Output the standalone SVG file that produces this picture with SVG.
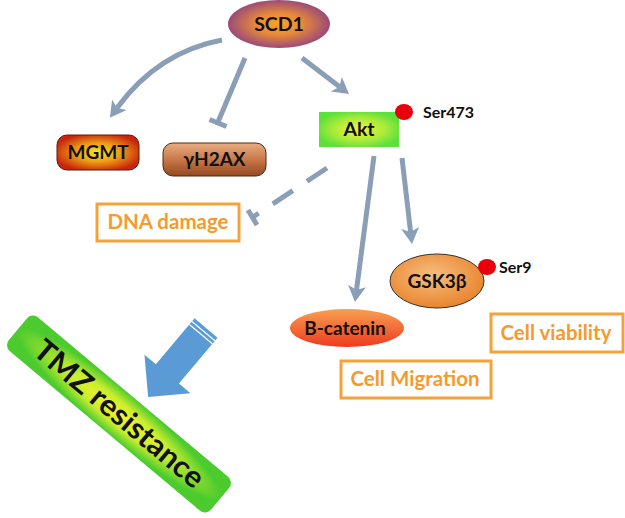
<svg xmlns="http://www.w3.org/2000/svg" width="625" height="518" viewBox="0 0 625 518">
<defs>
<style>
.lbl{font-family:Lato,"Open Sans","Liberation Sans",sans-serif;font-weight:bold;fill:#111;text-anchor:middle}
.otl{font-family:Lato,"Open Sans","Liberation Sans",sans-serif;font-weight:bold;fill:#F59A2E;text-anchor:middle}
.obox{fill:#fff;stroke:#F6A23A;stroke-width:3}
.con{fill:none;stroke:#8A9EB7;stroke-width:5}
.ser{font-family:Lato,"Open Sans","Liberation Sans",sans-serif;font-weight:bold;fill:#111;font-size:16px}
</style>
<marker id="ah" markerUnits="userSpaceOnUse" markerWidth="20" markerHeight="20" viewBox="0 -10 17 20" refX="4" refY="0" orient="auto">
<path d="M0,-9 L16,0 L0,9 L4,0 Z" fill="#8A9EB7"/>
</marker>
<radialGradient id="gScd" cx="0.5" cy="0.5" r="0.5">
<stop offset="0" stop-color="#FCA02A"/>
<stop offset="0.45" stop-color="#E88A3A"/>
<stop offset="1" stop-color="#9B4A78"/>
</radialGradient>
<radialGradient id="gMgmt" cx="0.5" cy="0.5" r="0.55">
<stop offset="0" stop-color="#F8EC1E"/>
<stop offset="0.5" stop-color="#EE9A18"/>
<stop offset="1" stop-color="#C8260C"/>
</radialGradient>
<linearGradient id="gH2" x1="0" y1="0" x2="0" y2="1">
<stop offset="0" stop-color="#E7AD80"/>
<stop offset="0.5" stop-color="#C9784A"/>
<stop offset="1" stop-color="#94491F"/>
</linearGradient>
<radialGradient id="gAkt" cx="0.5" cy="0.5" r="0.55">
<stop offset="0" stop-color="#F2F53A"/>
<stop offset="0.6" stop-color="#A8EA3A"/>
<stop offset="1" stop-color="#5CE03A"/>
</radialGradient>
<radialGradient id="gGsk" cx="0.45" cy="0.4" r="0.6">
<stop offset="0" stop-color="#F8BE80"/>
<stop offset="1" stop-color="#E8852E"/>
</radialGradient>
<linearGradient id="gBcat" x1="0" y1="0" x2="0" y2="1">
<stop offset="0" stop-color="#F8A050"/>
<stop offset="1" stop-color="#EE3A1E"/>
</linearGradient>
<radialGradient id="gTmz" cx="0.5" cy="0.5" r="0.5">
<stop offset="0" stop-color="#F4F42A"/>
<stop offset="0.5" stop-color="#C8EC2E"/>
<stop offset="1" stop-color="#4CCB2E"/>
</radialGradient>
</defs>
<rect width="625" height="518" fill="#fff"/>

<g id="connectors">
<path class="con" d="M222,40 Q158,52 117,108" marker-end="url(#ah)"/>
<path class="con" d="M245,58 L218,122"/>
<path class="con" d="M209.5,119.5 L226.5,126.5"/>
<path class="con" d="M302,58 L339.5,86.7" marker-end="url(#ah)"/>
<path class="con" d="M374,156 L356.5,290" marker-end="url(#ah)"/>
<path class="con" d="M402,158 L410.6,232" marker-end="url(#ah)"/>
<path class="con" d="M327,168 L253,217" stroke-dasharray="24,17"/>
<path class="con" d="M248,210 L257,225"/>
</g>

<g id="SCD1">
<ellipse cx="279" cy="24" rx="51" ry="24" fill="url(#gScd)"/>
<text class="lbl" x="279" y="31" font-size="19.5">SCD1</text>
</g>

<g id="MGMT">
<rect x="57" y="135" width="82" height="35" rx="10" fill="url(#gMgmt)" stroke="#5A1A10" stroke-width="1"/>
<text class="lbl" x="98" y="159" font-size="19">MGMT</text>
</g>

<g id="gH2AX">
<rect x="163" y="143" width="103" height="33" rx="10" fill="url(#gH2)" stroke="#4A2A14" stroke-width="1"/>
<text class="lbl" x="214.5" y="166" font-size="19">γH2AX</text>
</g>

<g id="DNAdamage">
<rect class="obox" x="97" y="204" width="142" height="37"/>
<text class="otl" x="168" y="229" font-size="20.5">DNA damage</text>
</g>

<g id="Akt">
<rect x="319" y="112" width="80" height="35" fill="url(#gAkt)"/>
<text class="lbl" x="359" y="136" font-size="19.5">Akt</text>
<ellipse cx="404" cy="112" rx="9" ry="8" fill="#E8000A"/>
<text class="ser" x="423" y="118">Ser473</text>
</g>

<g id="GSK3b">
<ellipse cx="437" cy="281" rx="47" ry="27" fill="url(#gGsk)" stroke="#333" stroke-width="1"/>
<text class="lbl" x="437" y="288" font-size="19">GSK3β</text>
<ellipse cx="487" cy="267" rx="9" ry="8" fill="#E8000A"/>
<text class="ser" x="499" y="273">Ser9</text>
</g>

<g id="Bcatenin">
<ellipse cx="347" cy="328" rx="57" ry="19" fill="url(#gBcat)"/>
<text class="lbl" x="345" y="335" font-size="19">B-catenin</text>
</g>

<g id="CellViability">
<rect class="obox" x="491" y="314" width="132" height="38"/>
<text class="otl" x="556" y="340" font-size="20.5">Cell viability</text>
</g>

<g id="CellMigration">
<rect class="obox" x="341" y="361" width="150" height="37"/>
<text class="otl" x="415" y="386" font-size="20.5">Cell Migration</text>
</g>

<g id="BlueArrow">
<g transform="translate(206,328) rotate(130)">
<path d="M0,-15 L60,-15 L60,-30 L90,0 L60,30 L60,15 L0,15 Z" fill="#5B9BD5"/>
<line x1="4" y1="-15" x2="4" y2="15" stroke="#fff" stroke-width="1.2"/>
<line x1="8" y1="-15" x2="8" y2="15" stroke="#fff" stroke-width="1.2"/>
</g>
</g>

<g id="TMZ">
<g transform="translate(119,414) rotate(40)">
<rect x="-132" y="-22" width="264" height="44" rx="8" fill="url(#gTmz)"/>
<text class="lbl" x="0" y="10" font-size="30" textLength="212" lengthAdjust="spacingAndGlyphs">TMZ resistance</text>
</g>
</g>
</svg>
